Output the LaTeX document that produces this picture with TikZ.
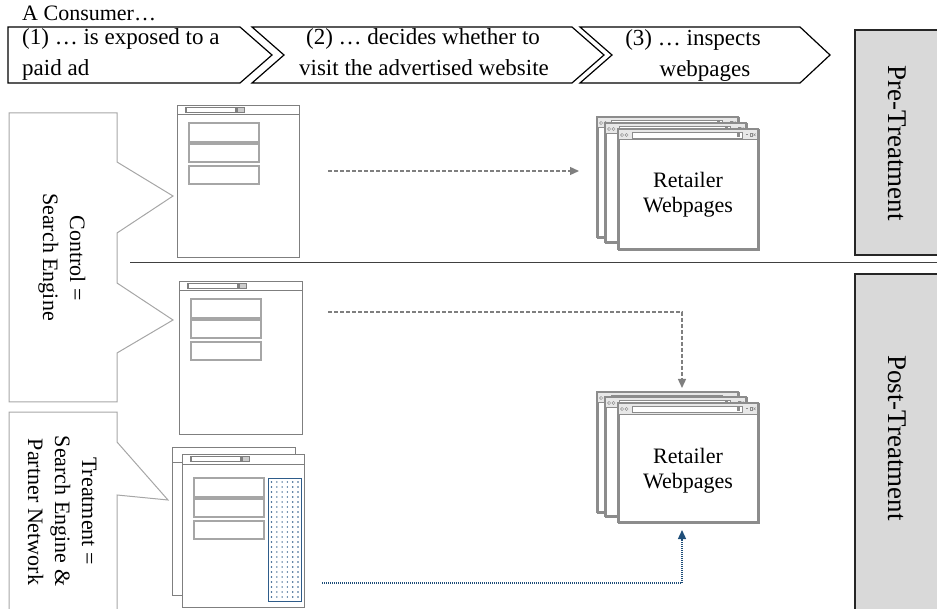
\documentclass[tikz,border=0pt]{standalone}
\usepackage{fontspec}
\setmainfont{Liberation Serif}
\usetikzlibrary{arrows.meta}
\definecolor{adgray}{HTML}{7F7F7F}
\definecolor{boxgray}{HTML}{A6A6A6}
\definecolor{pggray}{HTML}{8C8C8C}
\definecolor{callgray}{HTML}{A6A6A6}
\definecolor{phasefill}{HTML}{D9D9D9}
\definecolor{phaseline}{HTML}{262626}
\definecolor{adblue}{HTML}{2E5C8A}
\definecolor{arrowblue}{HTML}{1F4E79}
\tikzset{
 txt/.style={font=\fontsize{22}{26}\selectfont, inner sep=0pt},
 ctxt/.style={font=\fontsize{23}{27}\selectfont, inner sep=0pt},
 rtxt/.style={font=\fontsize{22}{26}\selectfont, inner sep=0pt, rotate=-90, anchor=base},
 phasetxt/.style={font=\fontsize{27}{32}\selectfont, inner sep=0pt, rotate=-90},
 chev/.style={draw=black, line width=1.2pt, fill=white, line join=miter},
 callout/.style={draw=callgray, line width=1pt},
 adbox/.style={draw=adgray, line width=1.4pt, fill=white, inner sep=0pt, anchor=north west},
 adinner/.style={draw=boxgray, line width=1.2pt},
 pagebox/.style={draw=pggray, line width=1.8pt, fill=white, inner sep=0pt, anchor=north west},
 phasebox/.style={draw=phaseline, fill=phasefill, line width=1.8pt, inner sep=0pt, anchor=north west},
 garrow/.style={draw=adgray, line width=1.3pt, dash pattern=on 4pt off 2pt, -{Triangle[length=9pt,width=8pt]}},
 barrow/.style={draw=arrowblue, line width=1.3pt, dash pattern=on 1pt off 1pt, -{Triangle[length=9pt,width=8pt]}},
}
\newcommand\adpage[6]{%
\begin{scope}[shift={(#2,#3)}]
 \node[adbox, minimum width=#4pt, minimum height=#5pt] (#1) at (0,0) {};
 \draw[adgray, line width=1pt] (0,10) -- (#4,10);
 \draw[adgray, line width=1.1pt] (9,2.5) rectangle (59,7.5);
 \draw[adgray, line width=0.8pt, fill=adgray!40] (60,2.5) rectangle (67,7.5);
 \draw[adinner] (12,#6) rectangle (82,#6+19);
 \draw[adinner] (12,#6+21) rectangle (82,#6+39);
 \draw[adinner] (12,#6+43) rectangle (82,#6+61);
\end{scope}}
\newcommand\webpage[5]{%
\begin{scope}[shift={(#2,#3)}]
 \node[pagebox, minimum width=#4pt, minimum height=#5pt] (#1) at (0,0) {};
 \fill[gray!18] (0,0) rectangle (#4,11);
 \draw[pggray, line width=1pt] (0,11) -- (#4,11);
 \fill[white] (14,3) rectangle (#4-16,9);
 \draw[pggray, line width=0.4pt] (14,3) rectangle (#4-16,9);
 \draw[pggray, line width=0.5pt] (4,6) circle (1.6) (8.5,6) circle (1.6);
 \fill[pggray] (#4-21,4) rectangle (#4-18,8);
 \fill[pggray] (#4-12,5.5) rectangle (#4-10,6.5);
 \draw[pggray, line width=0.5pt] (#4-8,4.5) rectangle (#4-6,7);
 \draw[pggray, line width=0.5pt] (#4-4.5,4.5) -- (#4-2.5,7) (#4-4.5,7) -- (#4-2.5,4.5);
 \draw[pggray, line width=1.8pt] (0,0) rectangle (#4,#5);
\end{scope}}
\begin{document}
\begin{tikzpicture}[x=1pt,y=-1pt]
\useasboundingbox (0,0) rectangle (937,609);
% process chevrons
\draw[chev] (8,27) -- (240,27) -- (272,55) -- (240,83) -- (8,83) -- cycle;
\draw[chev] (252,27) -- (572,27) -- (604,55) -- (572,83) -- (252,83) -- (284,55) -- cycle;
\draw[chev] (580,27) -- (800,27) -- (830,55) -- (800,83) -- (580,83) -- (612,55) -- cycle;
\node[txt, anchor=base west] (cons) at (22,21) {A Consumer…};
\node[ctxt, anchor=base west] (s1a) at (22,45) {(1) … is exposed to a};
\node[ctxt, anchor=base west] (s1b) at (22,76) {paid ad};
\node[ctxt, anchor=base] (s2a) at (423,45) {(2) … decides whether to};
\node[ctxt, anchor=base] (s2b) at (424,76) {visit the advertised website};
\node[ctxt, anchor=base] (s3a) at (693,46) {(3) … inspects};
\node[ctxt, anchor=base] (s3b) at (705,77) {webpages};
% phase boxes
\node[phasebox, minimum width=100pt, minimum height=225pt] (prebox) at (854,29) {};
\node[phasetxt] (pretxt) at (897,143) {Pre-Treatment};
\node[phasebox, minimum width=100pt, minimum height=350pt] (postbox) at (854,273) {};
\node[phasetxt] (posttxt) at (897,438) {Post-Treatment};
% divider
\draw[black!75, line width=1pt] (130,263) -- (937,263);
% callouts
\draw[callout] (9,113) -- (117,113) -- (117,162) -- (173,196) -- (117,233) -- (117,283) -- (173,320) -- (117,353) -- (117,402) -- (9,402) -- cycle;
\node[rtxt] (ctl1) at (70,258) {Control =};
\node[rtxt] (ctl2) at (43,257) {Search Engine};
\draw[callout] (9,412) -- (117,412) -- (117,442) -- (168,500) -- (117,495) -- (117,615) -- (9,615) -- cycle;
\node[rtxt] (tr1) at (82,511) {Treatment =};
\node[rtxt] (tr2) at (55,511) {Search Engine \&};
\node[rtxt] (tr3) at (28,512) {Partner Network};
% ads
\adpage{ad1}{177}{105}{122}{152}{18}
\adpage{ad2}{179}{281}{123}{153}{18}
\node[adbox, minimum width=123pt, minimum height=148pt] (ad3back) at (172,447) {};
\draw[adgray, line width=1pt] (172,462) -- (295,462);
\adpage{ad3}{182}{454}{122}{153}{24}
\node[draw=adblue, line width=1pt, inner sep=0pt, anchor=north west, minimum width=33pt, minimum height=123pt] (partner) at (268,478) {};
\foreach \i in {0,...,5}{\foreach \j in {0,...,23}{\fill[adblue] (271.5+\i*5.3,482+\j*5) circle (0.8);}}
% retailer webpages
\webpage{r1a}{597}{117}{141}{120}
\webpage{r1b}{605}{123}{141}{119}
\webpage{r1c}{618}{129}{140}{120}
\node[txt, anchor=base] (r1t1) at (688,188) {Retailer};
\node[txt, anchor=base] (r1t2) at (688,213) {Webpages};
\webpage{r2a}{597}{392}{141}{120}
\webpage{r2b}{605}{397}{141}{119}
\webpage{r2c}{618}{403}{140}{119}
\node[txt, anchor=base] (r2t1) at (688,463) {Retailer};
\node[txt, anchor=base] (r2t2) at (688,488) {Webpages};
% connectors
\coordinate (a1s) at (328,171); \coordinate (a1e) at (579,171);
\draw[garrow] (a1s) -- (a1e);
\coordinate (a2s) at (328,312); \coordinate (a2e) at (682,388);
\draw[garrow] (a2s) -| (a2e);
\coordinate (a3s) at (322,583); \coordinate (a3e) at (682,530);
\draw[barrow] (a3s) -| (a3e);
\end{tikzpicture}
\end{document}
